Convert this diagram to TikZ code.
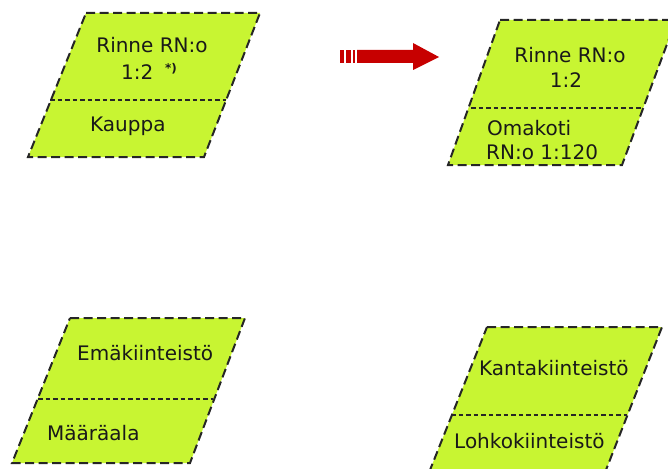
\documentclass[tikz,border=0pt]{standalone}
\usepackage{fontspec}
\setmainfont{DejaVu Sans}
\begin{document}
\begin{tikzpicture}[x=1pt,y=-1pt,
  cardedge/.style={draw=black!85, line width=2pt, dash pattern=on 9pt off 4.5pt},
  cardsplit/.style={draw=black!85, line width=1.1pt, dash pattern=on 4.5pt off 3pt},
  lbl/.style={font=\fontsize{20}{24}\selectfont, text=black!90, inner sep=0pt, anchor=base west},
  lblc/.style={lbl, anchor=base},
  arrowred/.style={fill=red!78!black}]
\definecolor{limefill}{RGB}{200,245,50}
\tikzset{cardfill/.style={fill=limefill}}
\useasboundingbox (0,0) rectangle (668,468);
\clip (0,0) rectangle (668,468);

% --- card 1: Rinne RN:o 1:2 / Kauppa
\coordinate (a1) at (86,13);  \coordinate (b1) at (260,13);
\coordinate (c1) at (204,157); \coordinate (d1) at (28,157);
\coordinate (e1) at (50,100); \coordinate (f1) at (226,100);
\path[cardfill] (a1) -- (b1) -- (c1) -- (d1) -- cycle;
\draw[cardsplit] (e1) -- (f1);
\draw[cardedge] (a1) -- (b1) -- (c1) -- (d1) -- cycle;
\node[lblc] (t1a) at (152,53) {Rinne RN:o};
\node[lbl] (t1b) at (121,80) {1:2};
\node[lbl, font=\bfseries\fontsize{12}{14}\selectfont] (t1c) at (165,73) {*)};
\node[lbl] (t1d) at (90,131) {Kauppa};

% --- card 2: Rinne RN:o 1:2 / Omakoti RN:o 1:120
\coordinate (a2) at (500,20);  \coordinate (b2) at (676,20);
\coordinate (c2) at (622,165); \coordinate (d2) at (448,165);
\coordinate (e2) at (471,108); \coordinate (f2) at (643,108);
\path[cardfill] (a2) -- (b2) -- (c2) -- (d2) -- cycle;
\draw[cardsplit] (e2) -- (f2);
\draw[cardedge] (a2) -- (b2) -- (c2) -- (d2) -- cycle;
\node[lblc] (t2a) at (570,63) {Rinne RN:o};
\node[lblc] (t2b) at (566,88) {1:2};
\node[lbl] (t2c) at (487,135) {Omakoti};
\node[lbl] (t2d) at (486,159) {RN:o 1:120};

% --- striped block arrow between the upper cards
\fill[arrowred] (340,50) rectangle (344,63);
\fill[arrowred] (346,50) rectangle (351,63);
\fill[arrowred] (353,50) rectangle (355,63);
\fill[arrowred] (357,50) -- (413,50) -- (413,43) -- (439,57) -- (413,70) -- (413,63) -- (357,63) -- cycle;

% --- card 3: Emäkiinteistö / Määräala
\coordinate (a3) at (70,318);  \coordinate (b3) at (245,318);
\coordinate (c3) at (190,463); \coordinate (d3) at (12,463);
\coordinate (e3) at (38,399); \coordinate (f3) at (213,399);
\path[cardfill] (a3) -- (b3) -- (c3) -- (d3) -- cycle;
\draw[cardsplit] (e3) -- (f3);
\draw[cardedge] (a3) -- (b3) -- (c3) -- (d3) -- cycle;
\node[lbl] (t3a) at (77,360) {Emäkiinteistö};
\node[lbl] (t3b) at (47,440) {Määräala};

% --- card 4: Kantakiinteistö / Lohkokiinteistö
\coordinate (a4) at (487,327);  \coordinate (b4) at (662,327);
\coordinate (c4) at (604,475); \coordinate (d4) at (428,475);
\coordinate (e4) at (451,415); \coordinate (f4) at (627,415);
\path[cardfill] (a4) -- (b4) -- (c4) -- (d4) -- cycle;
\draw[cardsplit] (e4) -- (f4);
\draw[cardedge] (a4) -- (b4) -- (c4) -- (d4) -- cycle;
\node[lbl] (t4a) at (479,375) {Kantakiinteistö};
\node[lbl] (t4b) at (454,448) {Lohkokiinteistö};
\end{tikzpicture}
\end{document}
